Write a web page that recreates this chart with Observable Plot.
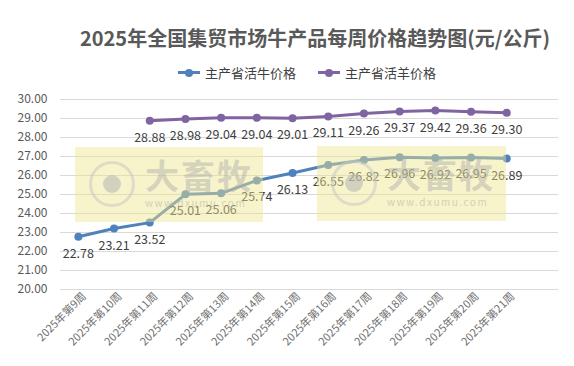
<!DOCTYPE html>
<html><head><meta charset="utf-8">
<script src="https://cdn.jsdelivr.net/npm/d3@7"></script>
<script src="https://cdn.jsdelivr.net/npm/@observablehq/plot@0.6"></script>
<style>
body{margin:0;background:#fff;font-family:"Noto Sans CJK SC","Noto Sans",sans-serif;}
#wrap{position:relative;width:574px;height:366px;overflow:hidden;}
#title{position:absolute;left:0;top:24px;width:630px;text-align:center;font-size:20px;font-weight:bold;color:#595959;line-height:28px;}
#legend{position:absolute;top:59px;left:7px;width:600px;text-align:center;font-size:13px;color:#404040;}
.li{display:inline-flex;align-items:center;margin:0 11px;}
.sw{position:relative;width:22px;height:3px;margin-right:5px;}
.sw i{position:absolute;left:7px;top:-2.5px;width:8px;height:8px;border-radius:50%;}
.wm{position:absolute;background:rgba(238,228,140,0.45);white-space:nowrap;}
.wm .c{position:absolute;left:14px;top:14px;width:46px;height:46px;border-radius:50%;border:3px solid rgba(200,200,200,0.55);box-sizing:border-box;}
.wm .c b{position:absolute;left:11px;top:11px;width:18px;height:18px;border-radius:50%;background:rgba(180,180,180,0.55);}
.wm .t{position:absolute;left:70px;top:8px;font-size:34px;line-height:40px;font-weight:bold;color:rgba(170,170,170,0.45);letter-spacing:2px;}
.wm .u{position:absolute;left:70px;top:50px;font-size:10px;line-height:12px;color:rgba(170,170,170,0.5);letter-spacing:1.5px;}
</style></head>
<body>
<div id="wrap"></div>
<script>
const weeks = [9,10,11,12,13,14,15,16,17,18,19,20,21];
const cattle = [22.78,23.21,23.52,25.01,25.06,25.74,26.13,26.55,26.82,26.96,26.92,26.95,26.89];
const sheepWeeks = [11,12,13,14,15,16,17,18,19,20,21];
const sheep = [28.88,28.98,29.04,29.04,29.01,29.11,29.26,29.37,29.42,29.36,29.30];
const yTicks = [20,21,22,23,24,25,26,27,28,29,30];
const seriesNames = ["主产省活牛价格","主产省活羊价格"];
const colors = ["#4f81bd","#8064a2"];
const title = "2025年全国集贸市场牛产品每周价格趋势图(元/公斤)";

const cattleData = weeks.map((w,i)=>({w, v: cattle[i]}));
const sheepData = sheepWeeks.map((w,i)=>({w, v: sheep[i]}));

const chart = Plot.plot({
  width: 574, height: 366,
  marginLeft: 60, marginRight: 16, marginTop: 99, marginBottom: 77,
  style: {fontFamily: '"Noto Sans CJK SC","Noto Sans",sans-serif', background: "transparent"},
  x: {type: "linear", domain: [8.5, 22.45]},
  y: {domain: [20, 30]},
  marks: [
    Plot.ruleY(yTicks, {stroke: "#d9d9d9", strokeWidth: 1}),
    Plot.axisY({ticks: yTicks, tickFormat: d => d.toFixed(2), tickSize: 0, tickPadding: 13, fontSize: 12, fill: "#595959", label: null}),
    Plot.axisX({ticks: weeks, tickFormat: w => `2025年第${w}周`, tickRotate: -45, tickSize: 0, tickPadding: 5, dx: 6, fontSize: 11, fill: "#707070", label: null}),
    Plot.line(cattleData, {x: "w", y: "v", stroke: colors[0], strokeWidth: 3}),
    Plot.dot(cattleData, {x: "w", y: "v", r: 4, fill: colors[0]}),
    Plot.text(cattleData, {x: "w", y: "v", text: d => d.v.toFixed(2), dy: 17, fontSize: 12.5, fill: "#404040"}),
    Plot.line(sheepData, {x: "w", y: "v", stroke: colors[1], strokeWidth: 3}),
    Plot.dot(sheepData, {x: "w", y: "v", r: 4, fill: colors[1]}),
    Plot.text(sheepData, {x: "w", y: "v", text: d => d.v.toFixed(2), dy: 17, fontSize: 12.5, fill: "#404040"})
  ]
});
const wrap = document.getElementById("wrap");
wrap.appendChild(chart);
chart.style.position = "absolute"; chart.style.left = "0"; chart.style.top = "0";

const t = document.createElement("div"); t.id = "title"; t.textContent = title; wrap.appendChild(t);
const lg = document.createElement("div"); lg.id = "legend";
seriesNames.forEach((n,i)=>{
  const s = document.createElement("span"); s.className = "li";
  s.innerHTML = `<span class="sw" style="background:${colors[i]}"><i style="background:${colors[i]}"></i></span>${n}`;
  lg.appendChild(s);
});
wrap.appendChild(lg);

[[75,147,188,75],[317,146,189,75]].forEach(([l,tp,w,h])=>{
  const d = document.createElement("div"); d.className = "wm";
  d.style.left = l+"px"; d.style.top = tp+"px"; d.style.width = w+"px"; d.style.height = h+"px";
  d.innerHTML = `<div class="c"><b></b></div><div class="t">大畜牧</div><div class="u">www.dxumu.com</div>`;
  wrap.appendChild(d);
});
</script>
</body></html>
